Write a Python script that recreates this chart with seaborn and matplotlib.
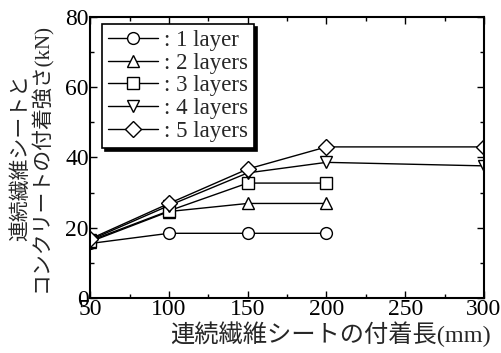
import matplotlib
matplotlib.use("Agg")
import matplotlib.pyplot as plt
from matplotlib.ticker import MultipleLocator
import seaborn as sns
import pandas as pd

# Bond length of the fibre sheet (mm) and measured bond strength (kN)
lengths_short = [50, 100, 150, 200]
lengths_long = [50, 100, 150, 200, 300]
layer1 = [15.5, 18.4, 18.4, 18.4]
layer2 = [16.0, 24.6, 26.9, 26.9]
layer3 = [16.3, 24.8, 32.7, 32.7]
layer4 = [16.5, 26.3, 35.6, 38.6, 37.6]
layer5 = [16.8, 26.9, 36.7, 43.0, 43.0]
labels = [": 1 layer", ": 2 layers", ": 3 layers", ": 4 layers", ": 5 layers"]
marker_shapes = ["o", "^", "s", "v", "D"]

series = [(lengths_short, layer1), (lengths_short, layer2), (lengths_short, layer3),
          (lengths_long, layer4), (lengths_long, layer5)]
rows = []
for lab, (xs, ys) in zip(labels, series):
    for x, y in zip(xs, ys):
        rows.append({"length": x, "strength": y, "layers": lab})
df = pd.DataFrame(rows)

sns.set_style("ticks")
plt.rcParams["font.family"] = ["Liberation Serif", "Noto Sans CJK JP"]

fig = plt.figure(figsize=(5.01, 3.53), dpi=100)
ax = fig.add_axes([0.18, 0.156, 0.786, 0.796])

sns.lineplot(data=df, x="length", y="strength", hue="layers", style="layers",
             hue_order=labels, style_order=labels,
             palette=["black"] * 5, markers=dict(zip(labels, marker_shapes)),
             dashes=False, markersize=8.5, markerfacecolor="white",
             markeredgecolor="black", markeredgewidth=1.0, linewidth=1.0,
             ax=ax, legend=True)

ax.set_xlim(50, 300)
ax.set_ylim(0, 80)
ax.xaxis.set_major_locator(MultipleLocator(50))
ax.xaxis.set_minor_locator(MultipleLocator(25))
ax.yaxis.set_major_locator(MultipleLocator(20))
ax.yaxis.set_minor_locator(MultipleLocator(10))
ax.tick_params(which="both", direction="in", top=True, right=True, colors="black")
ax.tick_params(which="major", length=5, width=1.0, labelsize=17, pad=1)
ax.tick_params(which="minor", length=3, width=1.0)
for s in ax.spines.values():
    s.set_linewidth(1.5)
    s.set_color("black")

ax.set_xlabel("連続繊維シートの付着長(mm)", fontsize=17.5)
ax.xaxis.set_label_coords(0.61, -0.085)
ax.set_ylabel("連続繊維シートと\nコンクリートの付着強さ(kN)", fontsize=15,
              linespacing=0.95)
ax.yaxis.set_label_coords(-0.097, 0.5)

leg = ax.legend(loc="upper left", bbox_to_anchor=(0.03, 0.975), fontsize=16.5,
                frameon=True, fancybox=False, edgecolor="black", framealpha=1,
                shadow={"color": "black", "alpha": 1.0},
                handlelength=2.2, handletextpad=0.25, labelspacing=0.08,
                borderpad=0.25, borderaxespad=0)
leg.get_frame().set_linewidth(1.2)
for h in leg.legend_handles:
    h.set_markerfacecolor("white")
    h.set_markeredgecolor("black")

fig.savefig("out.png", dpi=100)
